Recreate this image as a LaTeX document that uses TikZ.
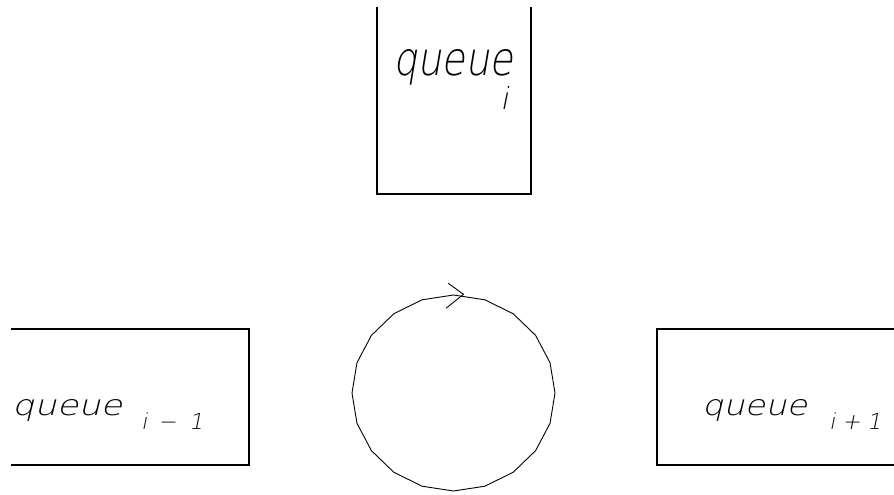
\documentclass[tikz,border=0pt]{standalone}
\usepackage{fontspec}
\usepackage{graphicx}
\newfontfamily\hf{DejaVu Sans ExtraLight}[FakeSlant=0.2]
\begin{document}
\begin{tikzpicture}[x=1pt,y=-1pt,
  boxline/.style={line width=1.3pt},
  ring/.style={line width=0.9pt, line join=round},
  lbl/.style={inner sep=0pt, anchor=base west},
  sub/.style={inner sep=0pt, anchor=base west, font=\hf\fontsize{22}{22}\selectfont}]
\useasboundingbox (0,0) rectangle (894,495);
% boxes (open on one side)
\draw[boxline] (377,7) -- (377,194) -- (531,194) -- (531,7);
\draw[boxline] (11,329) -- (249,329) -- (249,465) -- (11,465);
\draw[boxline] (894,329) -- (657,329) -- (657,465) -- (894,465);
% ring with arrow
\draw[ring] plot[samples=21, domain=0:360] ({453.5+101.5*cos(\x)}, {393+98*sin(\x)});
\draw[ring] (448.3,283.3) -- (463.5,294.3) -- (446,308.3);
% labels
\node[lbl] (qtop) at (393,76) {\resizebox{120pt}{26pt}{\hf queue}};
\node[lbl] (itop) at (500,110) {\resizebox{!}{23pt}{\hf i}};
\node[lbl] (qleft) at (12,415) {\resizebox{110pt}{16pt}{\hf queue}};
\node[sub] (ileft) at (141,429) {i};
\node[sub] (mleft) at (158,429) {−};
\node[sub] (oneleft) at (189,429) {1};
\node[lbl] (qright) at (702,415) {\resizebox{105pt}{16pt}{\hf queue}};
\node[sub] (iright) at (829,429) {i};
\node[sub] (pright) at (842,429) {+};
\node[sub] (oneright) at (867,429) {1};
\end{tikzpicture}
\end{document}
